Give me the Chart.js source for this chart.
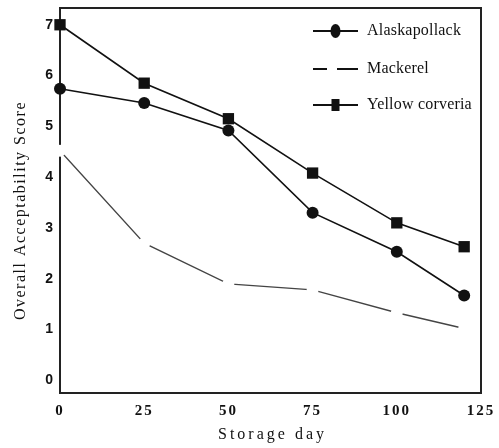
<!DOCTYPE html>
<html>
<head>
<meta charset="utf-8">
<script src="https://cdn.jsdelivr.net/npm/chart.js@4.4.1/dist/chart.umd.min.js"></script>
<style>
  html, body { margin: 0; padding: 0; background: #fff; }
  #myChart { display: block; }
</style>
</head>
<body>
<canvas id="myChart" width="499" height="448"></canvas>
<script>
// dias de almacenamiento y puntajes
const storageDays = [0, 25, 50, 75, 100, 120]
const alaskaPollack = [5.74, 5.46, 4.92, 3.3, 2.53, 1.67]
const mackerel = [4.52, 2.7, 1.9, 1.78, 1.33, 1.02]
const yellowCorveria = [7.0, 5.85, 5.15, 4.08, 3.1, 2.63]
const xTickValues = [0, 25, 50, 75, 100, 125]
const yTickValues = [0, 1, 2, 3, 4, 5, 6, 7]
const xTitle = 'Storage day'
const yTitle = 'Overall Acceptability Score'

const serif = '"Liberation Serif", "DejaVu Serif", serif'

function toPoints (values) {
  return values.map((v, i) => ({ x: storageDays[i], y: v }))
}

// marco alrededor del area del grafico
const framePlugin = {
  id: 'frame',
  beforeDraw (chart) {
    chart.ctx.letterSpacing = '2px'
  },
  beforeDatasetsDraw (chart) {
    const { ctx, chartArea } = chart
    ctx.save()
    ctx.strokeStyle = '#222'
    ctx.lineWidth = 2
    ctx.strokeRect(chartArea.left, chartArea.top, chartArea.right - chartArea.left, chartArea.bottom - chartArea.top)
    ctx.restore()
  }
}

// titulos de ejes con espaciado entre letras
const titlesPlugin = {
  id: 'axisTitles',
  afterDraw (chart) {
    const { ctx, chartArea } = chart
    ctx.save()
    ctx.fillStyle = '#111'
    ctx.textAlign = 'center'
    ctx.textBaseline = 'middle'
    ctx.font = '16px ' + serif
    ctx.letterSpacing = '3px'
    ctx.fillText(xTitle, (chartArea.left + chartArea.right) / 2 + 2, 435)
    ctx.letterSpacing = '1.5px'
    ctx.translate(21, (chartArea.top + chartArea.bottom) / 2 + 10)
    ctx.rotate(-Math.PI / 2)
    ctx.fillText(yTitle, 0, 0)
    ctx.restore()
  }
}

// leyenda dibujada a mano: linea + marcador
const legendPlugin = {
  id: 'customLegend',
  afterDraw (chart) {
    const ctx = chart.ctx
    const x0 = 313
    const x1 = 358
    const rows = [31, 69, 105]
    ctx.save()
    chart.data.datasets.forEach((ds, i) => {
      const y = rows[i]
      ctx.strokeStyle = '#111'
      ctx.lineWidth = 2
      if (ds.legendDash) {
        ctx.beginPath()
        ctx.moveTo(x0, y); ctx.lineTo(x0 + 14, y)
        ctx.moveTo(x0 + 24, y); ctx.lineTo(x1, y)
        ctx.stroke()
      } else {
        ctx.beginPath()
        ctx.moveTo(x0, y); ctx.lineTo(x1, y)
        ctx.stroke()
        ctx.fillStyle = '#111'
        const cx = (x0 + x1) / 2
        if (ds.pointStyle === 'circle') {
          ctx.beginPath()
          ctx.ellipse(cx, y, 5, 7, 0, 0, Math.PI * 2)
          ctx.fill()
        } else {
          ctx.fillRect(cx - 4, y - 6, 8, 12)
        }
      }
      ctx.fillStyle = '#111'
      ctx.font = '16px ' + serif
      ctx.letterSpacing = '0.2px'
      ctx.textBaseline = 'middle'
      ctx.textAlign = 'left'
      ctx.fillText(ds.label, 367, y)
    })
    ctx.restore()
  }
}

const config = {
  type: 'line',
  data: {
    datasets: [
      {
        label: 'Alaskapollack',
        data: toPoints(alaskaPollack),
        borderColor: '#111',
        borderWidth: 1.6,
        pointStyle: 'circle',
        pointRadius: 6,
        pointBackgroundColor: '#111',
        pointBorderWidth: 0,
        clip: false
      },
      {
        label: 'Mackerel',
        data: toPoints(mackerel),
        borderColor: '#444',
        borderWidth: 1.3,
        pointStyle: 'circle',
        pointRadius: 6,
        pointBackgroundColor: '#fff',
        pointBorderWidth: 0,
        legendDash: true,
        clip: false
      },
      {
        label: 'Yellow corveria',
        data: toPoints(yellowCorveria),
        borderColor: '#111',
        borderWidth: 1.6,
        pointStyle: 'rect',
        pointRadius: 8,
        pointBackgroundColor: '#111',
        pointBorderWidth: 0,
        clip: false
      }
    ]
  },
  options: {
    responsive: false,
    animation: false,
    layout: { padding: { top: 8, right: 18, left: 0, bottom: 0 } },
    plugins: {
      legend: { display: false },
      tooltip: { enabled: false }
    },
    scales: {
      x: {
        type: 'linear',
        min: 0,
        max: 125,
        afterBuildTicks: (scale) => { scale.ticks = xTickValues.map(v => ({ value: v })) },
        afterFit: (scale) => {
          scale.height = 55
          scale.paddingLeft = 0
          scale.paddingRight = 0
        },
        grid: { display: false, drawTicks: false },
        border: { display: false },
        ticks: {
          color: '#111',
          padding: 9,
          maxRotation: 0,
          font: { family: serif, size: 15, weight: 'bold' }
        }
      },
      y: {
        min: -0.25,
        max: 7.33,
        afterBuildTicks: (scale) => { scale.ticks = yTickValues.map(v => ({ value: v })) },
        afterFit: (scale) => {
          scale.width = 60
          scale.paddingTop = 0
          scale.paddingBottom = 0
        },
        grid: { display: false, drawTicks: false },
        border: { display: false },
        ticks: {
          color: '#111',
          padding: 5,
          font: { family: '"Liberation Sans", Arial, sans-serif', size: 14, weight: 'bold' }
        }
      }
    }
  },
  plugins: [framePlugin, legendPlugin, titlesPlugin]
}

const chart = new Chart(document.getElementById('myChart'), config)
</script>
</body>
</html>
